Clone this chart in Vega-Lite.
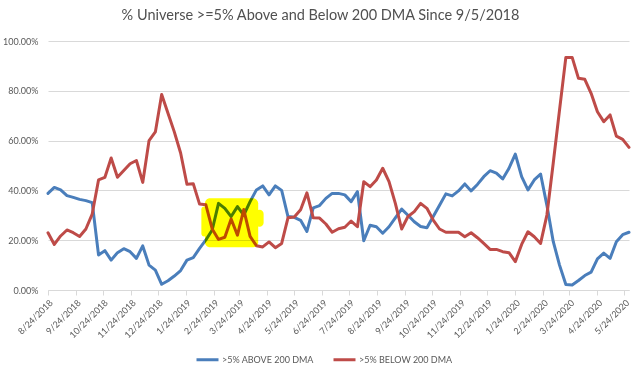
{
  "$schema": "https://vega.github.io/schema/vega-lite/v6.json",
  "width": 581,
  "height": 249,
  "autosize": {"type": "none"},
  "padding": {"left": 48, "top": 41, "right": 11, "bottom": 77},
  "background": "white",
  "title": {
    "text": "% Universe >=5% Above and Below 200 DMA Since 9/5/2018",
    "font": "Lato", "fontSize": 14.5, "fontWeight": "normal", "color": "#505050",
    "anchor": "middle", "dx": -18, "offset": 14
  },
  "config": {"view": {"stroke": null}, "font": "Lato"},
  "datasets": {
    "series": [
      {"date": "2018-08-24", "above": 0.388, "below": 0.230},
      {"date": "2018-08-31", "above": 0.412, "below": 0.183},
      {"date": "2018-09-07", "above": 0.402, "below": 0.217},
      {"date": "2018-09-14", "above": 0.379, "below": 0.241},
      {"date": "2018-09-21", "above": 0.372, "below": 0.230},
      {"date": "2018-09-28", "above": 0.364, "below": 0.215},
      {"date": "2018-10-05", "above": 0.359, "below": 0.245},
      {"date": "2018-10-12", "above": 0.351, "below": 0.305},
      {"date": "2018-10-19", "above": 0.141, "below": 0.442},
      {"date": "2018-10-26", "above": 0.158, "below": 0.452},
      {"date": "2018-11-02", "above": 0.120, "below": 0.530},
      {"date": "2018-11-09", "above": 0.150, "below": 0.453},
      {"date": "2018-11-16", "above": 0.166, "below": 0.480},
      {"date": "2018-11-23", "above": 0.154, "below": 0.507},
      {"date": "2018-11-30", "above": 0.127, "below": 0.520},
      {"date": "2018-12-07", "above": 0.177, "below": 0.432},
      {"date": "2018-12-14", "above": 0.100, "below": 0.600},
      {"date": "2018-12-21", "above": 0.080, "below": 0.635},
      {"date": "2018-12-28", "above": 0.023, "below": 0.785},
      {"date": "2019-01-04", "above": 0.037, "below": 0.710},
      {"date": "2019-01-11", "above": 0.056, "below": 0.635},
      {"date": "2019-01-18", "above": 0.078, "below": 0.550},
      {"date": "2019-01-25", "above": 0.120, "below": 0.425},
      {"date": "2019-02-01", "above": 0.130, "below": 0.427},
      {"date": "2019-02-08", "above": 0.167, "below": 0.345},
      {"date": "2019-02-15", "above": 0.201, "below": 0.342},
      {"date": "2019-02-22", "above": 0.241, "below": 0.245},
      {"date": "2019-03-01", "above": 0.348, "below": 0.203},
      {"date": "2019-03-08", "above": 0.328, "below": 0.212},
      {"date": "2019-03-15", "above": 0.295, "below": 0.285},
      {"date": "2019-03-22", "above": 0.335, "below": 0.220},
      {"date": "2019-03-29", "above": 0.301, "below": 0.323},
      {"date": "2019-04-05", "above": 0.355, "below": 0.215},
      {"date": "2019-04-12", "above": 0.402, "below": 0.178},
      {"date": "2019-04-19", "above": 0.418, "below": 0.173},
      {"date": "2019-04-26", "above": 0.382, "below": 0.193},
      {"date": "2019-05-03", "above": 0.418, "below": 0.170},
      {"date": "2019-05-10", "above": 0.400, "below": 0.187},
      {"date": "2019-05-17", "above": 0.295, "below": 0.290},
      {"date": "2019-05-24", "above": 0.292, "below": 0.293},
      {"date": "2019-05-31", "above": 0.280, "below": 0.322},
      {"date": "2019-06-07", "above": 0.235, "below": 0.390},
      {"date": "2019-06-14", "above": 0.330, "below": 0.290},
      {"date": "2019-06-21", "above": 0.339, "below": 0.289},
      {"date": "2019-06-28", "above": 0.368, "below": 0.265},
      {"date": "2019-07-05", "above": 0.388, "below": 0.232},
      {"date": "2019-07-12", "above": 0.388, "below": 0.246},
      {"date": "2019-07-19", "above": 0.382, "below": 0.252},
      {"date": "2019-07-26", "above": 0.355, "below": 0.277},
      {"date": "2019-08-02", "above": 0.395, "below": 0.254},
      {"date": "2019-08-09", "above": 0.198, "below": 0.435},
      {"date": "2019-08-16", "above": 0.260, "below": 0.415},
      {"date": "2019-08-23", "above": 0.254, "below": 0.442},
      {"date": "2019-08-30", "above": 0.228, "below": 0.489},
      {"date": "2019-09-06", "above": 0.254, "below": 0.435},
      {"date": "2019-09-13", "above": 0.290, "below": 0.348},
      {"date": "2019-09-20", "above": 0.325, "below": 0.245},
      {"date": "2019-09-27", "above": 0.300, "below": 0.295},
      {"date": "2019-10-04", "above": 0.274, "below": 0.315},
      {"date": "2019-10-11", "above": 0.255, "below": 0.348},
      {"date": "2019-10-18", "above": 0.250, "below": 0.328},
      {"date": "2019-10-25", "above": 0.295, "below": 0.281},
      {"date": "2019-11-01", "above": 0.340, "below": 0.245},
      {"date": "2019-11-08", "above": 0.386, "below": 0.232},
      {"date": "2019-11-15", "above": 0.378, "below": 0.232},
      {"date": "2019-11-22", "above": 0.398, "below": 0.232},
      {"date": "2019-11-29", "above": 0.426, "below": 0.214},
      {"date": "2019-12-06", "above": 0.398, "below": 0.230},
      {"date": "2019-12-13", "above": 0.424, "below": 0.210},
      {"date": "2019-12-20", "above": 0.455, "below": 0.187},
      {"date": "2019-12-27", "above": 0.479, "below": 0.163},
      {"date": "2020-01-03", "above": 0.469, "below": 0.163},
      {"date": "2020-01-10", "above": 0.446, "below": 0.154},
      {"date": "2020-01-17", "above": 0.489, "below": 0.150},
      {"date": "2020-01-24", "above": 0.546, "below": 0.114},
      {"date": "2020-01-31", "above": 0.455, "below": 0.183},
      {"date": "2020-02-07", "above": 0.402, "below": 0.234},
      {"date": "2020-02-14", "above": 0.442, "below": 0.214},
      {"date": "2020-02-21", "above": 0.466, "below": 0.187},
      {"date": "2020-02-28", "above": 0.340, "below": 0.301},
      {"date": "2020-03-06", "above": 0.195, "below": 0.509},
      {"date": "2020-03-13", "above": 0.100, "below": 0.723},
      {"date": "2020-03-20", "above": 0.022, "below": 0.934},
      {"date": "2020-03-27", "above": 0.020, "below": 0.934},
      {"date": "2020-04-03", "above": 0.038, "below": 0.850},
      {"date": "2020-04-10", "above": 0.058, "below": 0.846},
      {"date": "2020-04-17", "above": 0.072, "below": 0.790},
      {"date": "2020-04-24", "above": 0.125, "below": 0.716},
      {"date": "2020-05-01", "above": 0.148, "below": 0.676},
      {"date": "2020-05-08", "above": 0.127, "below": 0.703},
      {"date": "2020-05-15", "above": 0.194, "below": 0.618},
      {"date": "2020-05-22", "above": 0.222, "below": 0.605},
      {"date": "2020-05-29", "above": 0.232, "below": 0.573}
    ],
    "hl": [
      {"date": "2019-02-14", "end": "2019-04-14", "lo": 0.172, "hi": 0.368},
      {"date": "2019-02-10", "end": "2019-02-16", "lo": 0.215, "hi": 0.335},
      {"date": "2019-04-11", "end": "2019-04-20", "lo": 0.254, "hi": 0.322}
    ]
  },
  "encoding": {
    "x": {
      "field": "date", "type": "temporal", "title": null,
      "scale": {"type": "utc", "domain": [{"year": 2018, "month": 8, "date": 24, "utc": true}, {"year": 2020, "month": 5, "date": 29, "utc": true}]},
      "axis": {
        "values": [
          {"year": 2018, "month": 8, "date": 24, "utc": true},
          {"year": 2018, "month": 9, "date": 24, "utc": true},
          {"year": 2018, "month": 10, "date": 24, "utc": true},
          {"year": 2018, "month": 11, "date": 24, "utc": true},
          {"year": 2018, "month": 12, "date": 24, "utc": true},
          {"year": 2019, "month": 1, "date": 24, "utc": true},
          {"year": 2019, "month": 2, "date": 24, "utc": true},
          {"year": 2019, "month": 3, "date": 24, "utc": true},
          {"year": 2019, "month": 4, "date": 24, "utc": true},
          {"year": 2019, "month": 5, "date": 24, "utc": true},
          {"year": 2019, "month": 6, "date": 24, "utc": true},
          {"year": 2019, "month": 7, "date": 24, "utc": true},
          {"year": 2019, "month": 8, "date": 24, "utc": true},
          {"year": 2019, "month": 9, "date": 24, "utc": true},
          {"year": 2019, "month": 10, "date": 24, "utc": true},
          {"year": 2019, "month": 11, "date": 24, "utc": true},
          {"year": 2019, "month": 12, "date": 24, "utc": true},
          {"year": 2020, "month": 1, "date": 24, "utc": true},
          {"year": 2020, "month": 2, "date": 24, "utc": true},
          {"year": 2020, "month": 3, "date": 24, "utc": true},
          {"year": 2020, "month": 4, "date": 24, "utc": true},
          {"year": 2020, "month": 5, "date": 24, "utc": true}
        ],
        "format": "%-m/%-d/%Y",
        "labelAngle": -45, "labelFont": "Lato", "labelFontSize": 9, "labelColor": "#595959",
        "labelPadding": 3, "labelOverlap": false, "labelFlush": false,
        "domainColor": "#D9D9D9", "domainWidth": 1, "tickColor": "#D9D9D9", "tickSize": 5,
        "grid": false
      }
    }
  },
  "layer": [
    {
      "data": {"name": "series"},
      "transform": [{"fold": ["above", "below"], "as": ["series", "value"]}],
      "mark": {"type": "line", "strokeWidth": 3, "strokeJoin": "round", "strokeCap": "round"},
      "encoding": {
        "y": {
          "field": "value", "type": "quantitative", "title": null,
          "scale": {"domain": [0, 1], "nice": false},
          "axis": {
            "values": [0, 0.1, 0.2, 0.3, 0.4, 0.5, 0.6, 0.7, 0.8, 0.9, 1],
            "format": ".2%", "labelFont": "Lato", "labelFontSize": 9, "labelColor": "#595959",
            "labelPadding": 10, "domain": false, "ticks": false,
            "grid": true, "gridColor": "#D9D9D9", "gridWidth": 1
          }
        },
        "color": {
          "field": "series", "type": "nominal",
          "scale": {"domain": ["above", "below"], "range": ["#4A7EBB", "#BE4B48"]},
          "legend": {
            "title": null, "orient": "none", "legendX": 147, "legendY": 306,
            "direction": "horizontal", "symbolType": "stroke", "symbolSize": 484,
            "symbolStrokeWidth": 3, "labelFont": "Lato", "labelFontSize": 9, "labelColor": "#595959",
            "labelOffset": 2, "columnPadding": 13, "padding": 0,
            "labelExpr": "datum.label == 'above' ? '>5% ABOVE 200 DMA' : '>5% BELOW 200 DMA'"
          }
        }
      }
    },
    {
      "data": {"name": "hl"},
      "mark": {"type": "rect", "color": "#FFFF00", "blend": "multiply", "cornerRadius": 5},
      "encoding": {
        "x2": {"field": "end"},
        "y": {"field": "lo", "type": "quantitative", "title": null, "scale": {"domain": [0, 1], "nice": false}},
        "y2": {"field": "hi"}
      }
    }
  ]
}
